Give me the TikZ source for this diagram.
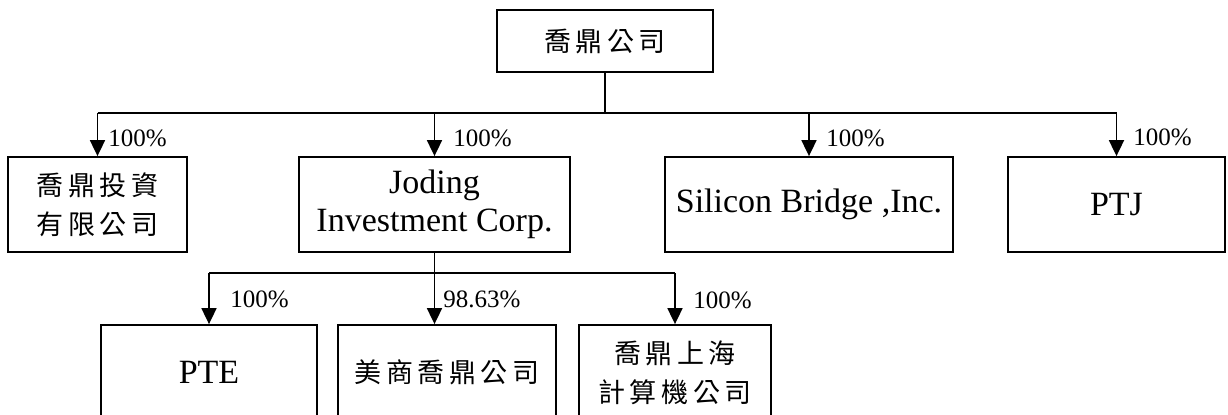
\documentclass[tikz,border=0pt]{standalone}
\usepackage{fontspec}
\setmainfont{Liberation Serif}
\newfontfamily\cjk[LetterSpace=17]{Noto Sans CJK TC}
\usetikzlibrary{arrows.meta}
\tikzset{
    box/.style={draw, line width=0.9pt, inner sep=0pt, align=center, font=\fontsize{17}{19}\selectfont},
    cjkbox/.style={box, font=\cjk\fontsize{13.5}{19.5}\selectfont},
    pct/.style={inner sep=0pt, anchor=base west, font=\fontsize{12.5}{14}\selectfont},
    link/.style={line width=0.9pt},
    arr/.style={link, -{Triangle[length=8pt,width=7.5pt]}}
}
\begin{document}
\begin{tikzpicture}[x=0.5pt, y=-0.5pt]
        \useasboundingbox (0, 0) rectangle (1228, 414);
        \clip (0, 0) rectangle (1228, 414);

        \node[cjkbox, minimum width=108pt, minimum height=31pt] (joding) at (605, 41) {喬鼎公司};

        \node[cjkbox, minimum width=89.5pt, minimum height=47.5pt] (inv) at (97.5, 204.5) {喬鼎投資\\有限公司};
        \node[box, minimum width=135.5pt, minimum height=47.5pt] (jic) at (434.5, 204.5) {Joding\\Investment Corp.};
        \node[box, minimum width=144pt, minimum height=47.5pt] (sbi) at (809, 204.5) {Silicon Bridge ,Inc.};
        \node[box, minimum width=108.5pt, minimum height=47.5pt] (ptj) at (1116.5, 204.5) {PTJ};

        \node[box, minimum width=108pt, minimum height=47.5pt] (pte) at (209, 372.5) {PTE};
        \node[cjkbox, minimum width=109pt, minimum height=47.5pt] (usa) at (447, 372.5) {美商喬鼎公司};
        \node[cjkbox, minimum width=96pt, minimum height=47.5pt] (sha) at (675, 372.5) {喬鼎上海\\計算機公司};

        \coordinate (fork1) at (0, 113);
        \draw[link] (joding.south) -- (joding.south |- fork1);
        \draw[link] (inv.north |- fork1) -- (ptj.north |- fork1);
        \draw[arr] (inv.north |- fork1) -- (inv.north);
        \draw[arr] (jic.north |- fork1) -- (jic.north);
        \draw[arr] (sbi.north |- fork1) -- (sbi.north);
        \draw[arr] (ptj.north |- fork1) -- (ptj.north);
        \node[pct] (p1) at (108, 146) {100\%};
        \node[pct] (p2) at (453, 146) {100\%};
        \node[pct] (p3) at (826, 146) {100\%};
        \node[pct] (p4) at (1133, 145) {100\%};

        \coordinate (fork2) at (0, 273);
        \draw[link] (pte.north |- fork2) -- (sha.north |- fork2);
        \draw[arr] (pte.north |- fork2) -- (pte.north);
        \draw[arr] (jic.south) -- (jic.south |- usa.north);
        \draw[arr] (sha.north |- fork2) -- (sha.north);
        \node[pct] (q1) at (230, 307) {100\%};
        \node[pct] (q2) at (443, 307) {98.63\%};
        \node[pct] (q3) at (693, 308) {100\%};
\end{tikzpicture}
\end{document}
